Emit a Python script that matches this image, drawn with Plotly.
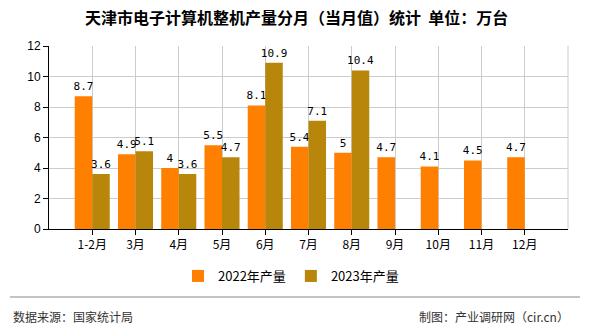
import plotly.graph_objects as go

categories = ["1-2月", "3月", "4月", "5月", "6月", "7月", "8月", "9月", "10月", "11月", "12月"]
values_2022 = [8.7, 4.9, 4, 5.5, 8.1, 5.4, 5, 4.7, 4.1, 4.5, 4.7]
values_2023 = [3.6, 5.1, 3.6, 4.7, 10.9, 7.1, 10.4, None, None, None, None]
y_ticks = [0, 2, 4, 6, 8, 10, 12]

title_text = "天津市电子计算机整机产量分月（当月值）统计  单位：万台"
source_text = "数据来源：国家统计局"
credit_text = "制图：产业调研网（cir.cn）"

W, H = 590, 330
L, R, T, B = 49, 22, 46, 101
PW, PH = W - L - R, H - T - B

def px(x):
    return (x - L) / PW

def py(y):
    return (H - B - y) / PH

label_font = dict(family="DejaVu Sans Mono, monospace", size=11, color="#000")

def fmt(v):
    return None if v is None else ("%g" % v)

fig = go.Figure()
fig.add_trace(go.Bar(
    name="2022年产量", x=categories, y=values_2022,
    marker=dict(color="#FF8000", line=dict(width=0)),
    text=[fmt(v) for v in values_2022], textposition="outside",
    textfont=label_font, cliponaxis=False, constraintext="none",
))
fig.add_trace(go.Bar(
    name="2023年产量", x=categories, y=values_2023,
    marker=dict(color="#B8860B", line=dict(width=0)),
    text=[fmt(v) for v in values_2023], textposition="outside",
    textfont=label_font, cliponaxis=False, constraintext="none",
))

fig.update_layout(
    width=W, height=H,
    margin=dict(l=L, r=R, t=T, b=B, pad=0),
    paper_bgcolor="white", plot_bgcolor="white",
    barmode="group", bargap=0.19, bargroupgap=0,
    showlegend=True,
    legend=dict(orientation="h", x=px(291), xanchor="center", y=py(276), yanchor="middle",
                font=dict(family="Noto Sans CJK SC", size=13, color="#000"),
                itemwidth=30, tracegroupgap=0),
    font=dict(family="Noto Sans CJK SC", size=12, color="#000"),
)
fig.update_xaxes(
    type="category", range=[-1, 11],
    showgrid=True, gridcolor="#cccccc", gridwidth=1,
    showline=True, linecolor="#000", linewidth=1,
    ticks="outside", ticklen=5, tickcolor="#000",
    tickfont=dict(family="Noto Sans CJK SC", size=12, color="#000"),
    fixedrange=True,
)
fig.update_yaxes(
    range=[0, 12], tickvals=y_ticks,
    showgrid=True, gridcolor="#cccccc", gridwidth=1,
    showline=True, linecolor="#000", linewidth=1,
    ticks="outside", ticklen=5, tickcolor="#000",
    tickfont=dict(family="Liberation Sans, Arial", size=12, color="#000"),
    zeroline=False, fixedrange=True,
)

# right border of plot area
fig.add_shape(type="line", xref="paper", yref="paper", x0=1, x1=1, y0=0, y1=1,
              line=dict(color="#cccccc", width=1))
# separator line above footer
fig.add_shape(type="line", xref="paper", yref="paper", x0=px(10), x1=px(580), y0=py(297), y1=py(297),
              line=dict(color="#888888", width=1))

fig.add_annotation(text="<b>" + title_text + "</b>", xref="paper", yref="paper",
                   x=px(296), y=py(17), xanchor="center", yanchor="middle", showarrow=False,
                   font=dict(family="Noto Sans CJK SC", size=16, color="#000"))
fig.add_annotation(text=source_text, xref="paper", yref="paper",
                   x=px(11), y=py(316), xanchor="left", yanchor="middle", showarrow=False,
                   font=dict(family="Noto Sans CJK SC", size=12, color="#333"))
fig.add_annotation(text=credit_text, xref="paper", yref="paper",
                   x=px(571), y=py(316), xanchor="right", yanchor="middle", showarrow=False,
                   font=dict(family="Noto Sans CJK SC", size=12, color="#333"))

fig.write_html("out.html")
